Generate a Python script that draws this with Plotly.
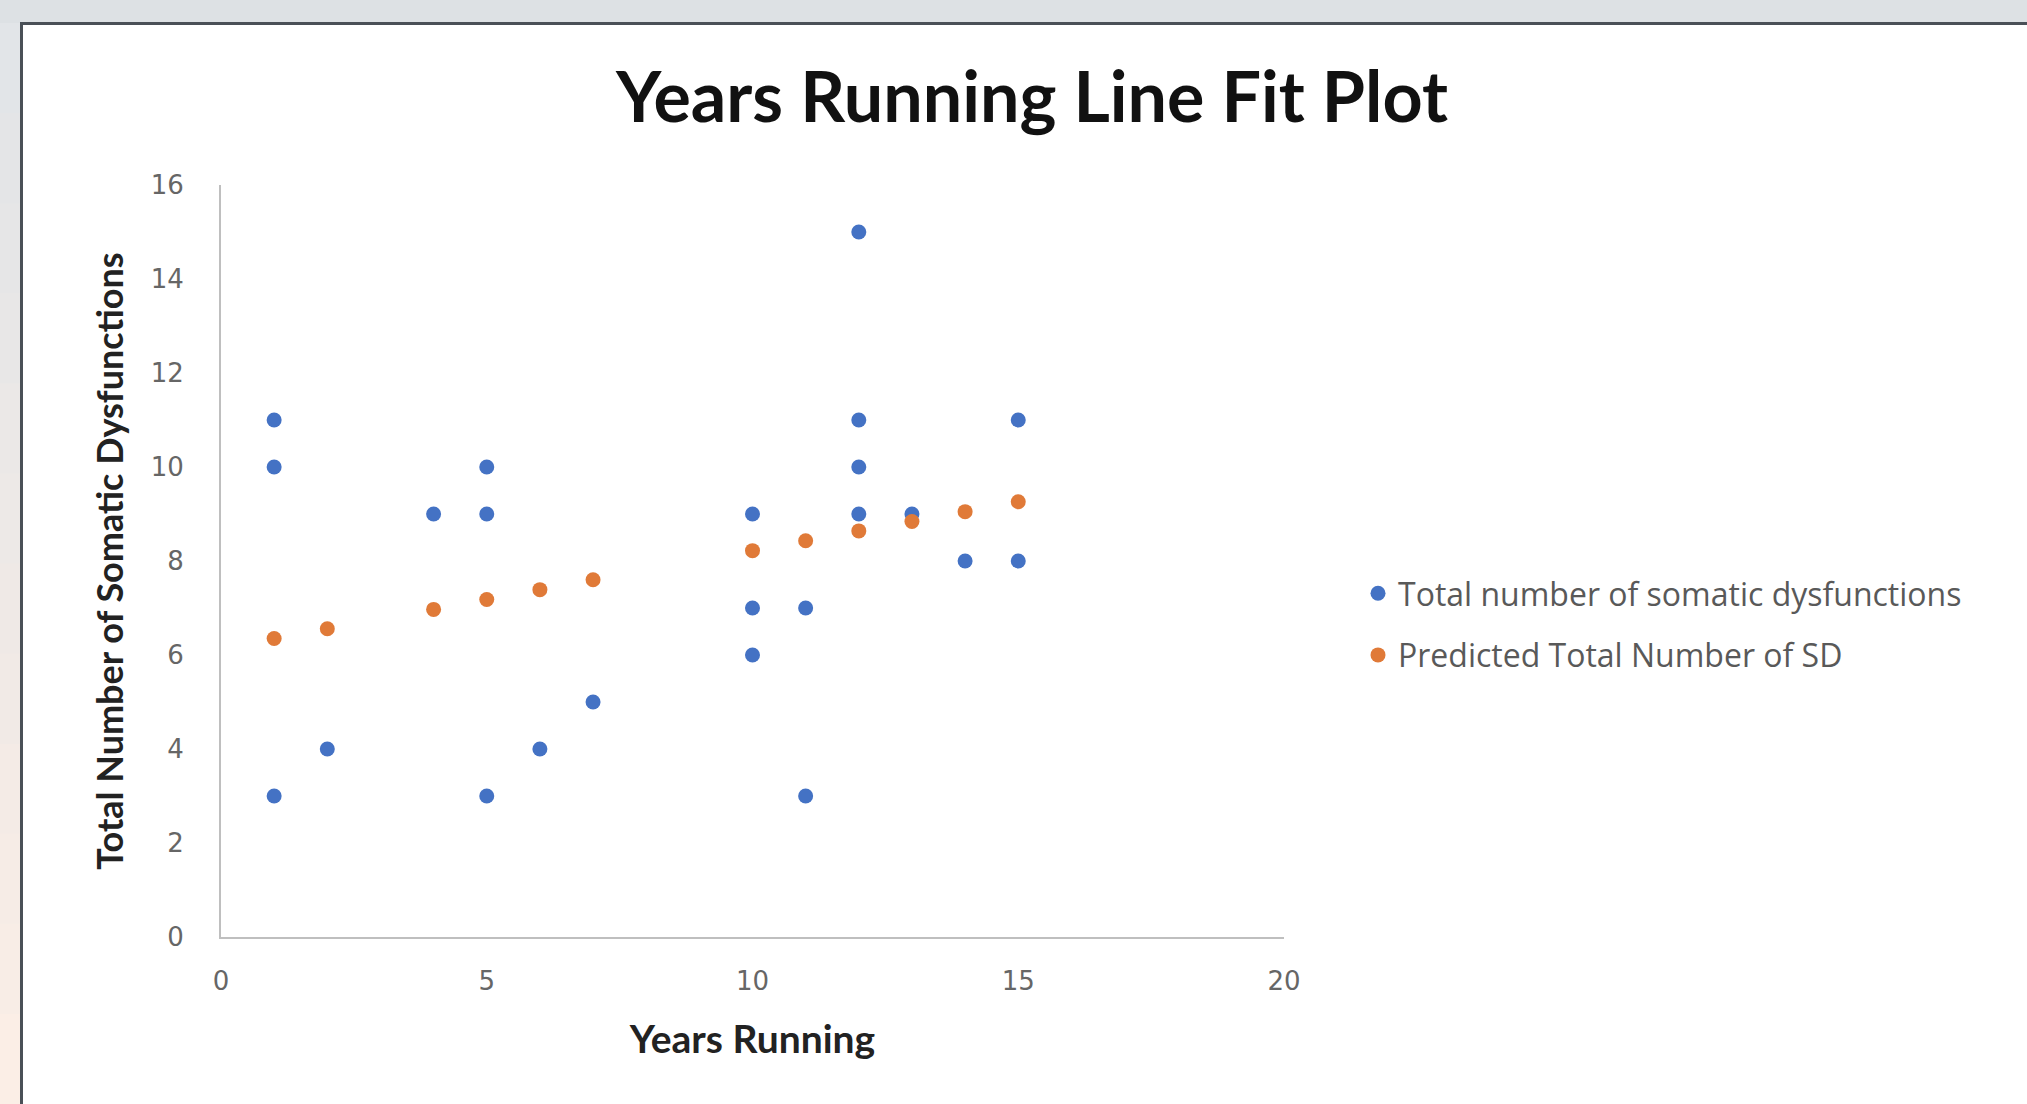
import plotly.graph_objects as go

# ---- data ----
years_actual = [1, 1, 1, 2, 4, 5, 5, 5, 6, 7, 10, 10, 10, 11, 11, 12, 12, 12, 12, 13, 14, 15, 15]
sd_actual = [11, 10, 3, 4, 9, 10, 9, 3, 4, 5, 9, 7, 6, 7, 3, 15, 11, 10, 9, 9, 8, 11, 8]

years_pred = [1, 2, 4, 5, 6, 7, 10, 11, 12, 13, 14, 15]
sd_pred = [6.35, 6.56, 6.97, 7.18, 7.39, 7.60, 8.22, 8.43, 8.64, 8.84, 9.05, 9.26]

x_ticks = [0, 5, 10, 15, 20]
y_ticks = [0, 2, 4, 6, 8, 10, 12, 14, 16]

W, H = 2027, 1104
L, R, T, B = 221, 1284, 185, 937   # plot area in pixels


def px(xp):
    return (xp - L) / (R - L)


def py(yp):
    return (B - yp) / (B - T)


fig = go.Figure()
fig.add_trace(go.Scatter(
    x=years_actual, y=sd_actual, mode="markers",
    name="Total number of somatic dysfunctions",
    legendgroup="a",
    marker=dict(color="#4472C4", size=15),
))
fig.add_trace(go.Scatter(
    x=years_pred, y=sd_pred, mode="markers",
    name="Predicted Total Number of SD",
    legendgroup="b",
    marker=dict(color="#E07A38", size=15),
))

shapes = []
# top gray band
shapes.append(dict(type="rect", xref="paper", yref="paper", layer="below",
                   x0=px(0), x1=px(W), y0=py(0), y1=py(23),
                   fillcolor="#DDE1E4", line=dict(width=0)))
# left gradient strip (gray -> peach)
steps = 12
for i in range(steps):
    t = i / (steps - 1)
    r = int(0xE2 + (0xFB - 0xE2) * t)
    g = int(0xE5 + (0xEE - 0xE5) * t)
    b = int(0xE8 + (0xE6 - 0xE8) * t)
    y0p = 23 + (H - 23) * i / steps
    y1p = 23 + (H - 23) * (i + 1) / steps
    shapes.append(dict(type="rect", xref="paper", yref="paper", layer="below",
                       x0=px(0), x1=px(20), y0=py(y0p), y1=py(y1p + 1),
                       fillcolor=f"rgb({r},{g},{b})", line=dict(width=0)))
# dark card border (top and left)
shapes.append(dict(type="line", xref="paper", yref="paper",
                   x0=px(20), x1=px(W), y0=py(23.5), y1=py(23.5),
                   line=dict(color="#4A5057", width=3)))
shapes.append(dict(type="line", xref="paper", yref="paper",
                   x0=px(21.5), x1=px(21.5), y0=py(22), y1=py(H),
                   line=dict(color="#4A5057", width=3)))

FONT = "Lato, Carlito, Open Sans, sans-serif"
TICKFONT = "DejaVu Sans, sans-serif"

fig.update_layout(
    width=W, height=H,
    margin=dict(l=L, r=W - R, t=T, b=H - B, pad=0),
    paper_bgcolor="white",
    plot_bgcolor="white",
    shapes=shapes,
    font=dict(family=FONT, color="#595959"),
    title=dict(text="<b>Years Running Line Fit Plot</b>",
               x=1032 / W, xref="container", xanchor="center",
               y=1 - 97 / H, yref="container", yanchor="middle",
               font=dict(family=FONT, size=70, color="#111111")),
    xaxis=dict(range=[0, 20], tickvals=x_ticks, showgrid=False, zeroline=False,
               showline=True, linecolor="#BFBFBF", linewidth=2,
               ticks="", ticklabelstandoff=20,
               tickfont=dict(family=TICKFONT, size=26, color="#666666"),
               title=dict(text="<b>Years Running</b>", standoff=30,
                          font=dict(size=39, color="#222222"))),
    yaxis=dict(range=[0, 16], tickvals=y_ticks, showgrid=False, zeroline=False,
               showline=True, linecolor="#BFBFBF", linewidth=2,
               ticks="", ticklabelstandoff=30,
               tickfont=dict(family=TICKFONT, size=26, color="#666666"),
               title=dict(text="<b>Total Number of Somatic Dysfunctions</b>", standoff=16,
                          font=dict(size=36, color="#222222"))),
    showlegend=True,
    legend=dict(x=px(1358), xanchor="left", y=py(566), yanchor="top",
                xref="paper", yref="paper",
                traceorder="grouped", tracegroupgap=17,
                font=dict(family="Open Sans, sans-serif", size=32, color="#595959"),
                itemwidth=30, bgcolor="rgba(0,0,0,0)"),
)

fig.write_html("out.html", config={"displayModeBar": False},
               post_script="document.body.style.margin='0';document.body.style.padding='0';")
